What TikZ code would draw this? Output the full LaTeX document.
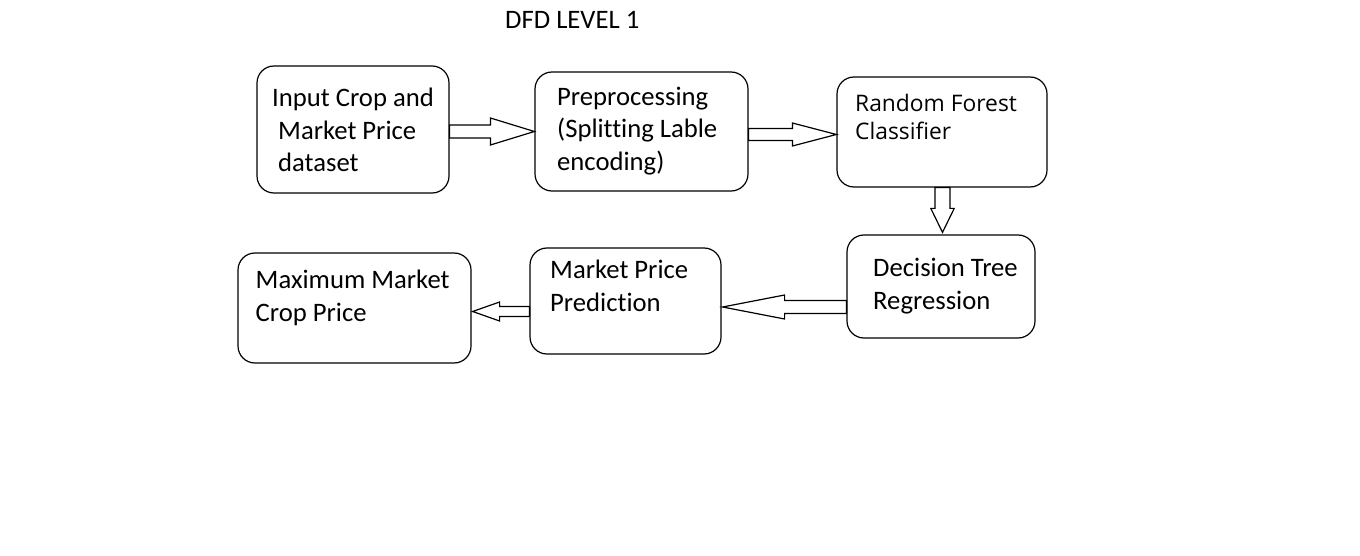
\documentclass[tikz,border=0pt]{standalone}
\usepackage{fontspec}
\setmainfont{Carlito}[Ligatures={NoCommon}]
\newfontfamily\osans{Open Sans}[Ligatures={NoCommon}]
\usetikzlibrary{calc}
\tikzset{
  box/.style={draw=black, line width=1.2pt, rounded corners=17pt, inner sep=0pt, fill=white},
  txt/.style={anchor=base west, inner sep=0pt, yshift=-1.5pt, font=\fontsize{26.67}{32}\selectfont},
  txtb/.style={anchor=base west, inner sep=0pt, yshift=-1pt, font=\osans\fontsize{22.8}{28}\selectfont},
  barrow/.style={draw=black, line width=1.2pt, fill=white, line join=miter}
}
% horizontal block arrow: from, to, shaft half width, head half width, head length
\newcommand{\harr}[5]{\draw[barrow] let \p1=(#1),\p2=(#2),\n1={ifthenelse(\x2>\x1,1,-1)} in
  (\x1,\y2+#3) -- (\x2-\n1*#5,\y2+#3) -- (\x2-\n1*#5,\y2+#4) -- (\x2,\y2) --
  (\x2-\n1*#5,\y2-#4) -- (\x2-\n1*#5,\y2-#3) -- (\x1,\y2-#3) -- cycle;}
% vertical block arrow
\newcommand{\varr}[5]{\draw[barrow] let \p1=(#1),\p2=(#2),\n1={ifthenelse(\y2>\y1,1,-1)} in
  (\x2+#3,\y1) -- (\x2+#3,\y2-\n1*#5) -- (\x2+#4,\y2-\n1*#5) -- (\x2,\y2) --
  (\x2-#4,\y2-\n1*#5) -- (\x2-#3,\y2-\n1*#5) -- (\x2-#3,\y1) -- cycle;}
\begin{document}
\begin{tikzpicture}[x=1pt,y=-1pt]
\useasboundingbox[fill=white] (0,0) rectangle (1360,556);

\node[txt] (title) at (505,27.5) {DFD LEVEL 1};

% boxes
\node[box, minimum width=192pt, minimum height=127pt] (A) at (353,129.5) {};
\node[box, minimum width=213pt, minimum height=119pt] (B) at (641.5,131.5) {};
\node[box, minimum width=210pt, minimum height=110pt] (C) at (942,132) {};
\node[box, minimum width=188pt, minimum height=103pt] (D) at (941,286.5) {};
\node[box, minimum width=191pt, minimum height=106pt] (E) at (625.5,301) {};
\node[box, minimum width=233pt, minimum height=110pt] (F) at (354.5,308) {};

% texts
\node[txt] (a1) at (272,105) {Input Crop and};
\node[txt] (a2) at (278,137.7) {Market Price};
\node[txt] (a3) at (278,170) {dataset};

\node[txt] (b1) at (557,104) {Preprocessing};
\node[txt] (b2) at (557,136.5) {(Splitting Lable};
\node[txt] (b3) at (557,169) {encoding)};

\node[txtb] (c1) at (855,110.5) {Random Forest};
\node[txtb] (c2) at (855,139) {Classifier};

\node[txt] (d1) at (873,275.3) {Decision Tree};
\node[txt] (d2) at (873,308) {Regression};

\node[txt] (e1) at (550,277.3) {Market Price};
\node[txt] (e2) at (550,310) {Prediction};

\node[txt] (f1) at (255.5,286.7) {Maximum Market};
\node[txt] (f2) at (255.5,320) {Crop Price};

% block arrows
\harr{$(A.east)+(0,2)$}{B.west}{6.5}{13.5}{44}
\harr{$(B.east)+(0,3)$}{$(C.west)+(0,2.5)$}{6}{11.5}{44}
\varr{C.south}{$(D.north)+(1.5,-2)$}{7.5}{11.7}{24}
\harr{D.west}{$(E.east)+(1,6)$}{6.5}{12}{62}
\harr{E.west}{$(F.east)+(1,3.5)$}{5}{9.5}{27}
\end{tikzpicture}
\end{document}
